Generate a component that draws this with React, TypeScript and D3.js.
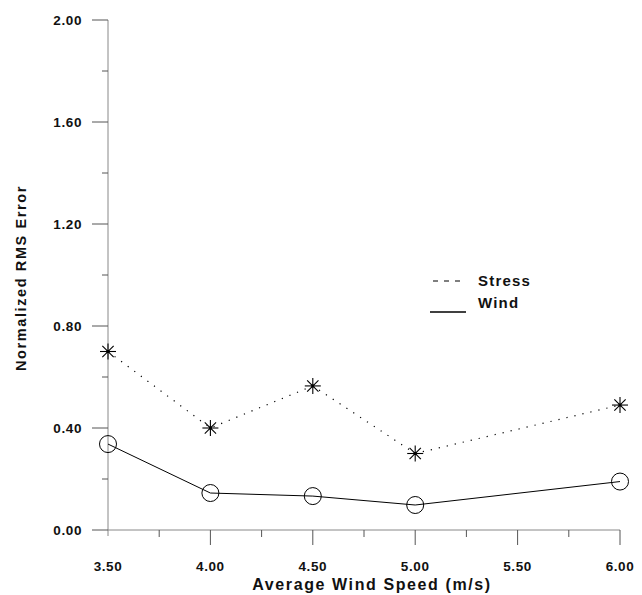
import React from "react";
import * as d3 from "d3";

const windSpeeds = [3.5, 4.0, 4.5, 5.0, 6.0];
const stressValues = [0.70, 0.40, 0.565, 0.30, 0.49];
const windValues = [0.337, 0.145, 0.133, 0.098, 0.19];
const yTicks = [0, 0.4, 0.8, 1.2, 1.6, 2.0];
const yMinorTicks = [0.2, 0.6, 1.0, 1.4, 1.8];
const xTicks = [3.5, 4.0, 4.5, 5.0, 5.5, 6.0];
const xMinorTicks = [3.75, 4.25, 4.75, 5.25, 5.75];

const W = 642;
const H = 595;
const FONT = "'Liberation Sans', Arial, sans-serif";

export default function App() {
  const x = d3.scaleLinear().domain([3.5, 6.0]).range([108, 620]);
  const y = d3.scaleLinear().domain([0, 2.0]).range([530, 20]);

  const line = d3
    .line<number>()
    .x((_, i) => x(windSpeeds[i]))
    .y((d) => y(d));

  const star = (cx: number, cy: number, key: string) => {
    const r = 8;
    const arms = d3.range(4).map((k) => {
      const a = (k * Math.PI) / 4;
      return (
        <line
          key={k}
          x1={cx - r * Math.cos(a)}
          y1={cy - r * Math.sin(a)}
          x2={cx + r * Math.cos(a)}
          y2={cy + r * Math.sin(a)}
          stroke="#000"
          strokeWidth={1.1}
        />
      );
    });
    return (
      <g key={key}>
        {arms}
        <rect x={cx - 1.5} y={cy - 1.5} width={3} height={3} fill="#000" />
      </g>
    );
  };

  return (
    <svg width={W} height={H} style={{ position: "absolute", left: 0, top: 0, background: "#fff" }}>
      <rect width={W} height={H} fill="#fff" />
      {/* axes */}
      <line x1={x(3.5)} x2={x(3.5)} y1={y(2.0)} y2={y(0) + 6} stroke="#888" strokeWidth={1} />
      <line x1={x(3.5)} x2={x(6.0)} y1={y(0)} y2={y(0)} stroke="#888" strokeWidth={1} />
      {yTicks.map((t) => (
        <g key={"yt" + t}>
          <line x1={92} x2={108} y1={y(t)} y2={y(t)} stroke="#555" strokeWidth={1} />
          <text
            x={82}
            y={y(t)}
            dy="0.36em"
            textAnchor="end"
            fontFamily={FONT}
            fontSize={13.5}
            fontWeight="bold"
            letterSpacing={0.6}
            fill="#111"
          >
            {t.toFixed(2)}
          </text>
        </g>
      ))}
      {yMinorTicks.map((t) => (
        <line key={"ym" + t} x1={102} x2={108} y1={y(t)} y2={y(t)} stroke="#555" strokeWidth={1} />
      ))}
      {xTicks.map((t) => (
        <g key={"xt" + t}>
          {t > 3.5 && (
            <line x1={x(t)} x2={x(t)} y1={y(0)} y2={y(0) + 15} stroke="#555" strokeWidth={1} />
          )}
          <text
            x={x(t)}
            y={571}
            textAnchor="middle"
            fontFamily={FONT}
            fontSize={13.5}
            fontWeight="bold"
            letterSpacing={0.6}
            fill="#111"
          >
            {t.toFixed(2)}
          </text>
        </g>
      ))}
      {xMinorTicks.map((t) => (
        <line key={"xm" + t} x1={x(t)} x2={x(t)} y1={y(0)} y2={y(0) + 7} stroke="#555" strokeWidth={1} />
      ))}
      {/* axis titles */}
      <text
        x={372}
        y={590}
        textAnchor="middle"
        fontFamily={FONT}
        fontSize={16}
        fontWeight="bold"
        letterSpacing={1.6}
        fill="#111"
      >
        Average Wind Speed (m/s)
      </text>
      <text
        transform="translate(26,278) rotate(-90)"
        textAnchor="middle"
        fontFamily={FONT}
        fontSize={14.5}
        fontWeight="bold"
        letterSpacing={1.6}
        fill="#111"
      >
        Normalized RMS Error
      </text>
      {/* stress dotted line */}
      <path
        d={line(stressValues) || ""}
        fill="none"
        stroke="#000"
        strokeWidth={1.2}
        strokeDasharray="1.2,7"
      />
      {/* wind solid line */}
      <path d={line(windValues) || ""} fill="none" stroke="#000" strokeWidth={1} />
      {stressValues.map((v, i) => star(x(windSpeeds[i]), y(v), "s" + i))}
      {windValues.map((v, i) => (
        <circle
          key={"c" + i}
          cx={x(windSpeeds[i])}
          cy={y(v)}
          r={8.5}
          fill="none"
          stroke="#000"
          strokeWidth={1}
        />
      ))}
      {/* legend */}
      <line x1={433} x2={466} y1={281} y2={281} stroke="#000" strokeWidth={1.2} strokeDasharray="5,6" />
      <text x={478} y={286} fontFamily={FONT} fontSize={15} fontWeight="bold" letterSpacing={1.2} fill="#111">
        Stress
      </text>
      <line x1={430} x2={466} y1={312} y2={312} stroke="#000" strokeWidth={1.6} />
      <text x={478} y={308} fontFamily={FONT} fontSize={15} fontWeight="bold" letterSpacing={1.2} fill="#111">
        Wind
      </text>
    </svg>
  );
}
